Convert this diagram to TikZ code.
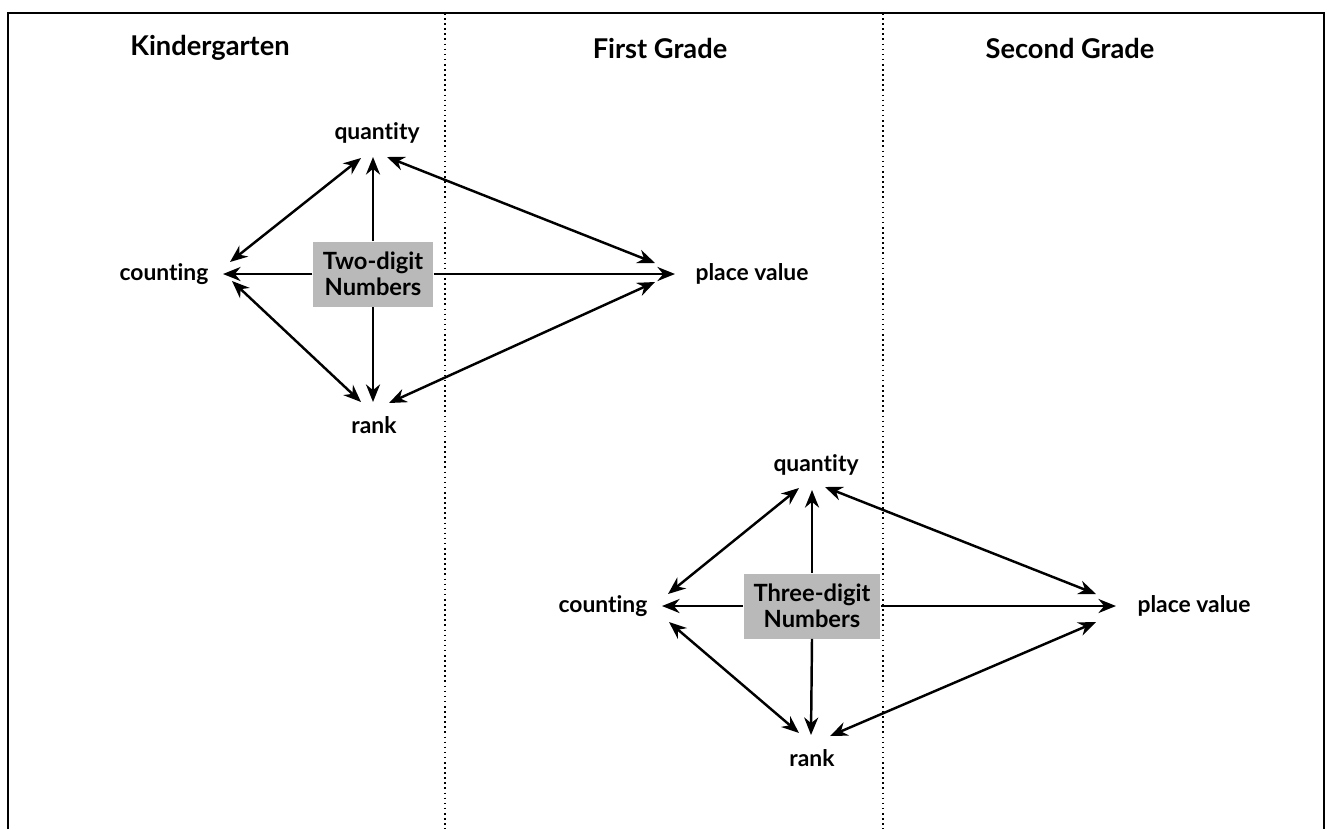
\documentclass[tikz,border=0pt]{standalone}
\usepackage{fontspec}
\setmainfont{Lato}[Ligatures=NoCommon]
\usetikzlibrary{arrows.meta}

\tikzset{
  lbl/.style={font=\fontsize{13}{15}\selectfont\bfseries, inner sep=0pt},
  head/.style={font=\fontsize{15.5}{18}\selectfont\bfseries, inner sep=0pt},
  numbox/.style={fill=gray!55, font=\fontsize{13.5}{14.5}\selectfont\bfseries,
    align=center, inner xsep=0.2cm, inner ysep=0pt, minimum height=1.3cm},
  arr/.style={line width=1.4pt, -{Stealth[length=10pt,width=8pt]}},
  darr/.style={line width=1.4pt, {Stealth[length=10pt,width=8pt]}-{Stealth[length=10pt,width=8pt]}}
}

\begin{document}
\begin{tikzpicture}[x=0.02cm, y=-0.02cm]

\def\W{1327}
\def\H{829}
\def\xA{445}  
\def\xB{883}  

\useasboundingbox (0,0) rectangle (\W,\H);

% frame and grade dividers
\draw[line width=1.3pt] (8,\H) -- (8,13) -- (1324,13) -- (1324,\H);
\draw[dotted, line width=0.9pt] (\xA,13) -- (\xA,\H);
\draw[dotted, line width=0.9pt] (\xB,13) -- (\xB,\H);

\node[head] (kg) at (210,48)  {Kindergarten};
\node[head] (g1) at (660,48)  {First Grade};
\node[head] (g2) at (1070,48) {Second Grade};

% two-digit numbers
\node[numbox] (two) at (373,274) {Two-digit\\Numbers};
\node[lbl] (q1) at (377,133) {quantity};
\node[lbl] (c1) at (164,274) {counting};
\node[lbl] (p1) at (752,274) {place value};
\node[lbl] (r1) at (374,425) {rank};

\draw[arr] (two.north) -- ([shift={(-4,24)}]q1.center);
\draw[arr] (two.west)  -- ([shift={(59,0)}]c1.center);
\draw[arr] (two.east)  -- ([shift={(-77,0)}]p1.center);
\draw[arr] (two.south) -- ([shift={(-1,-23)}]r1.center);

\draw[darr] ([shift={(-16,25)}]q1.center) -- ([shift={(66,-12)}]c1.center);
\draw[darr] ([shift={(68,7)}]c1.center)   -- ([shift={(-13,-23)}]r1.center);
\draw[darr] ([shift={(10,24)}]q1.center)  -- ([shift={(-97,-11)}]p1.center);
\draw[darr] ([shift={(15,-22)}]r1.center) -- ([shift={(-97,8)}]p1.center);

% three-digit numbers
\node[numbox] (three) at (812,606) {Three-digit\\Numbers};
\node[lbl] (q2) at (816,465)  {quantity};
\node[lbl] (c2) at (603,606)  {counting};
\node[lbl] (p2) at (1194,606) {place value};
\node[lbl] (r2) at (812,758)  {rank};

\draw[arr] (three.north) -- ([shift={(-4,25)}]q2.center);
\draw[arr] (three.west)  -- ([shift={(59,0)}]c2.center);
\draw[arr] (three.east)  -- ([shift={(-78,0)}]p2.center);
\draw[arr] (three.south) -- ([shift={(-1,-23)}]r2.center);

\draw[darr] ([shift={(-17,23)}]q2.center) -- ([shift={(65,-12)}]c2.center);
\draw[darr] ([shift={(66,16)}]c2.center)  -- ([shift={(-13,-25)}]r2.center);
\draw[darr] ([shift={(9,22)}]q2.center)   -- ([shift={(-98,-12)}]p2.center);
\draw[darr] ([shift={(18,-22)}]r2.center) -- ([shift={(-98,16)}]p2.center);
\end{tikzpicture}
\end{document}
